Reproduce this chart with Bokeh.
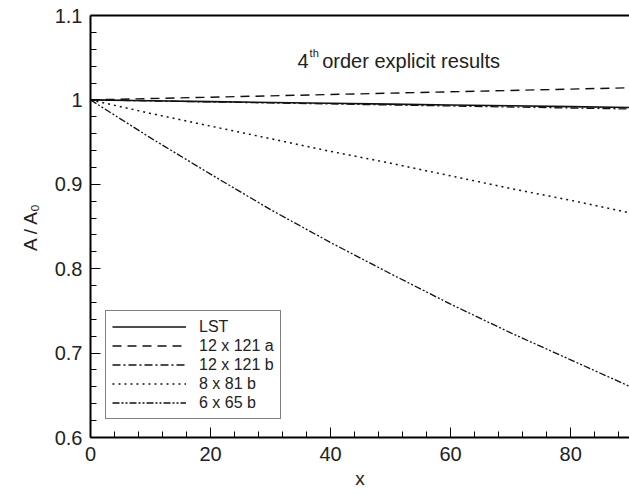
from bokeh.plotting import figure
from bokeh.models import (Range1d, FixedTicker, LinearAxis, Legend, LegendItem,
                          Label, CustomJSTickFormatter)
from bokeh.embed import file_html
from bokeh.resources import INLINE

# ---- data ----
x = [0, 10, 20, 30, 40, 50, 60, 70, 80, 90]
lst = [1.0, 0.999, 0.998, 0.997, 0.996, 0.995, 0.994, 0.993, 0.992, 0.991]
g12a = [1.0, 1.0016, 1.0032, 1.0048, 1.0064, 1.008, 1.0096, 1.0112, 1.0128, 1.0144]
g12b = [1.0, 0.9988, 0.9976, 0.9964, 0.9952, 0.994, 0.9928, 0.9916, 0.9904, 0.9892]
g8b = [1.0, 0.984, 0.969, 0.954, 0.939, 0.925, 0.910, 0.895, 0.881, 0.866]
g6b = [1.0, 0.955, 0.912, 0.870, 0.831, 0.794, 0.758, 0.724, 0.692, 0.660]

x_ticks = [0, 20, 40, 60, 80]
x_minor = [v for v in range(0, 92, 4) if v % 20 != 0]
y_ticks = [0.6, 0.7, 0.8, 0.9, 1.0, 1.1]
y_minor = [round(0.6 + 0.02 * i, 2) for i in range(26) if i % 5 != 0]

labels = ["LST", "12 x 121 a", "12 x 121 b", "8 x 81 b", "6 x 65 b"]

FONT = "Liberation Sans"
TXT = "#222222"
AX = "black"

x0, x1 = 0, 89.8
y0, y1 = 0.6, 1.1

p = figure(width=629, height=494, output_backend="svg", toolbar_location=None,
           x_range=Range1d(x0, x1), y_range=Range1d(y0, y1),
           min_border_left=90, min_border_right=0, min_border_top=15,
           min_border_bottom=57)
p.outline_line_color = None
p.grid.visible = False
p.background_fill_color = "white"
p.border_fill_color = "white"

for ax in (p.xaxis[0], p.yaxis[0]):
    ax.axis_line_width = 2
    ax.axis_line_color = AX
    ax.major_tick_line_color = AX
    ax.minor_tick_line_color = AX
    ax.major_tick_line_width = 1
    ax.minor_tick_line_width = 1
    ax.major_tick_in = 10
    ax.minor_tick_in = 6
    ax.major_tick_out = 0
    ax.minor_tick_out = 0
    ax.major_label_text_font = FONT
    ax.major_label_text_font_size = "20px"
    ax.major_label_text_color = TXT
    ax.axis_label_text_font = FONT
    ax.axis_label_text_font_size = "19px"
    ax.axis_label_text_font_style = "normal"
    ax.axis_label_text_color = TXT

p.xaxis[0].ticker = FixedTicker(ticks=x_ticks, minor_ticks=x_minor)
p.yaxis[0].ticker = FixedTicker(ticks=y_ticks, minor_ticks=y_minor)
p.yaxis[0].formatter = CustomJSTickFormatter(
    code="return (Math.round(tick*10)/10).toString();")
p.xaxis[0].major_label_standoff = 9
p.yaxis[0].major_label_standoff = 8
p.xaxis[0].axis_label = "x"
p.yaxis[0].axis_label = "A / A\u2080"
p.xaxis[0].axis_label_standoff = 4
p.yaxis[0].axis_label_standoff = 11

top = LinearAxis(ticker=FixedTicker(ticks=[]), major_tick_line_color=None,
                 minor_tick_line_color=None, axis_line_width=2,
                 axis_line_color=AX)
p.add_layout(top, "above")

c = "#111111"
r1 = p.line(x, lst, line_color=c, line_width=1.6)
r2 = p.line(x, g12a, line_color=c, line_width=1.4, line_dash="9 6")
r3 = p.line(x, g12b, line_color=c, line_width=1.3, line_dash="8 3 2 3")
r4 = p.line(x, g8b, line_color=c, line_width=1.5, line_dash="2 4")
r5 = p.line(x, g6b, line_color=c, line_width=1.3, line_dash="7 2 2 2 2 2")

legend = Legend(items=[LegendItem(label=l, renderers=[r]) for l, r in
                       zip(labels, [r1, r2, r3, r4, r5])],
                location=(15, 18), glyph_width=74, glyph_height=19,
                label_height=19, spacing=0, padding=6, margin=0,
                label_standoff=13, label_text_font=FONT,
                label_text_font_size="16px", label_text_color=TXT,
                border_line_color=AX, border_line_width=1,
                background_fill_alpha=1)
p.add_layout(legend, "center")

p.add_layout(Label(x=34.5, y=1.0455, text="4", text_font=FONT,
                   text_font_size="20px", text_color=TXT,
                   text_baseline="alphabetic"))
p.add_layout(Label(x=36.5, y=1.0555, text="th", text_font=FONT,
                   text_font_size="11px", text_color=TXT,
                   text_baseline="alphabetic"))
p.add_layout(Label(x=38.6, y=1.0455, text="order explicit results",
                   text_font=FONT, text_font_size="20px", text_color=TXT,
                   text_baseline="alphabetic"))

open("out.html", "w").write(file_html(p, INLINE))
